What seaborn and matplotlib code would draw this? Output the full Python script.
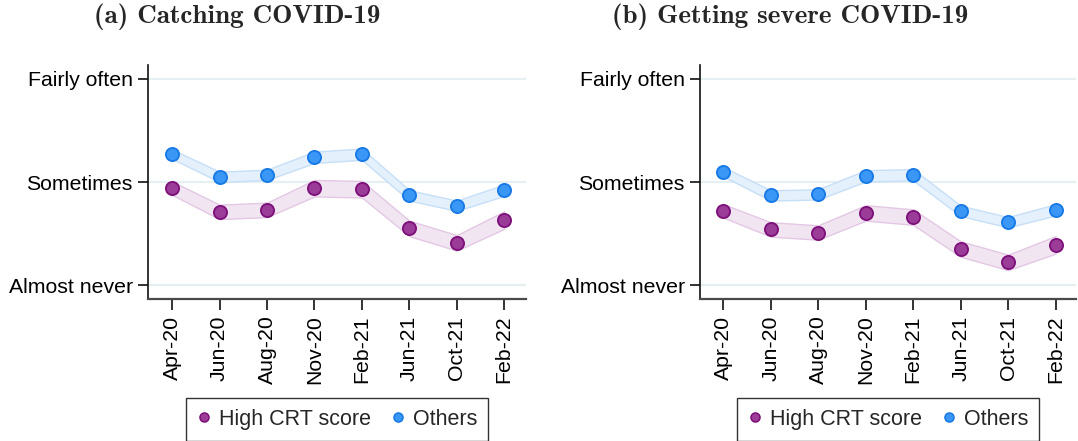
import numpy as np
import pandas as pd
import matplotlib
matplotlib.use("Agg")
import matplotlib.pyplot as plt
from matplotlib.lines import Line2D
import seaborn as sns

# Survey waves
waves = ["Apr-20", "Jun-20", "Aug-20", "Nov-20", "Feb-21", "Jun-21", "Oct-21", "Feb-22"]

# Y-axis scale labels (1 = Almost never, 2 = Sometimes, 3 = Fairly often)
scale_values = [1, 2, 3]
scale_labels = ["Almost never", "Sometimes", "Fairly often"]

# (a) Worry about catching COVID-19: mean and 95% CI half-width
catch_high = [1.94, 1.71, 1.73, 1.94, 1.93, 1.55, 1.41, 1.63]
catch_high_ci = [0.065, 0.07, 0.07, 0.08, 0.08, 0.075, 0.075, 0.085]
catch_others = [2.27, 2.05, 2.07, 2.24, 2.27, 1.87, 1.77, 1.92]
catch_others_ci = [0.045, 0.05, 0.05, 0.055, 0.055, 0.05, 0.05, 0.055]

# (b) Worry about getting severe COVID-19
severe_high = [1.72, 1.54, 1.51, 1.70, 1.66, 1.35, 1.22, 1.39]
severe_high_ci = [0.065, 0.07, 0.07, 0.075, 0.075, 0.075, 0.075, 0.085]
severe_others = [2.10, 1.87, 1.88, 2.06, 2.07, 1.72, 1.61, 1.73]
severe_others_ci = [0.045, 0.05, 0.05, 0.055, 0.055, 0.05, 0.05, 0.055]

group_names = ["High CRT score", "Others"]
titles = ["(a) Catching COVID-19", "(b) Getting severe COVID-19"]

styles = {
    "High CRT score": dict(face="#9B3D98", edge="#7D0F7A",
                           band="#F2E5F2", band_edge="#E3C8E4"),
    "Others": dict(face="#3A97F5", edge="#1679E6",
                   band="#E4F0FC", band_edge="#C6DFF7"),
}

sns.set_theme(style="white")
plt.rcParams["font.family"] = ["Liberation Sans", "DejaVu Sans"]

fig = plt.figure(figsize=(10.78, 4.41), dpi=100)
fig.patch.set_facecolor("white")

W, H = 1078.0, 441.0
panels = [
    dict(x0=148, x1=526, xlim=(-0.51, 7.46),
         series={"High CRT score": (catch_high, catch_high_ci),
                 "Others": (catch_others, catch_others_ci)}),
    dict(x0=700, x1=1076, xlim=(-0.49, 7.43),
         series={"High CRT score": (severe_high, severe_high_ci),
                 "Others": (severe_others, severe_others_ci)}),
]
title_centers = [237, 790]

y_top, y_bot = 65, 299
for i, p in enumerate(panels):
    ax = fig.add_axes([p["x0"] / W, 1 - y_bot / H, (p["x1"] - p["x0"]) / W, (y_bot - y_top) / H])
    ax.set_facecolor("white")
    pos = np.arange(len(waves))

    for y in scale_values:
        ax.axhline(y, color="#E6EFF2", lw=1.6, zorder=0)

    for g in group_names:
        vals, ci = p["series"][g]
        vals = np.asarray(vals)
        ci = np.asarray(ci)
        st = styles[g]
        ax.fill_between(pos, vals - ci, vals + ci, facecolor=st["band"],
                        edgecolor=st["band_edge"], linewidth=1.0, zorder=1)
        df = pd.DataFrame({"wave": pos, "value": vals})
        sns.scatterplot(data=df, x="wave", y="value", ax=ax, s=90,
                        color=st["face"], edgecolor=st["edge"], linewidth=1.3,
                        zorder=3, legend=False)

    ax.set_xlim(*p["xlim"])
    ax.set_ylim(0.865, 3.135)
    ax.set_xticks(pos)
    ax.set_xticklabels(waves, rotation=90, fontsize=15.3)
    ax.set_yticks(scale_values)
    ax.set_yticklabels(scale_labels, fontsize=15.3)
    ax.set_xlabel("")
    ax.set_ylabel("")
    for side in ["top", "right"]:
        ax.spines[side].set_visible(False)
    ax.spines["left"].set_color("#111111")
    ax.spines["left"].set_linewidth(1.2)
    ax.spines["bottom"].set_color("#4a4a4a")
    ax.spines["bottom"].set_linewidth(1.6)
    ax.tick_params(axis="y", direction="out", length=7, width=1.2, color="#111111",
                   pad=4, left=True)
    ax.tick_params(axis="x", direction="out", length=8, width=1.2, color="#111111",
                   pad=4, bottom=True)
    for lab in ax.get_xticklabels() + ax.get_yticklabels():
        lab.set_color("black")

    handles = [Line2D([], [], marker="o", linestyle="none", markersize=6.5,
                      markerfacecolor=styles[g]["face"],
                      markeredgecolor=styles[g]["edge"], markeredgewidth=1.1,
                      label=g) for g in group_names]
    leg = ax.legend(handles=handles, loc="upper center",
                    bbox_to_anchor=(0.5, (y_bot - 398) / (y_bot - y_top)),
                    ncol=2, frameon=True, fancybox=False, fontsize=15.5,
                    handletextpad=0.35, columnspacing=0.9, borderpad=0.5,
                    handlelength=0.7, borderaxespad=0)
    leg.get_frame().set_edgecolor("black")
    leg.get_frame().set_linewidth(1.0)

    fig.text(title_centers[i] / W, 1 - 17 / H, titles[i], ha="center", va="center",
             fontsize=19.5, family=["cmb10", "DejaVu Serif"])

fig.savefig("out.png", dpi=100, facecolor="white")
